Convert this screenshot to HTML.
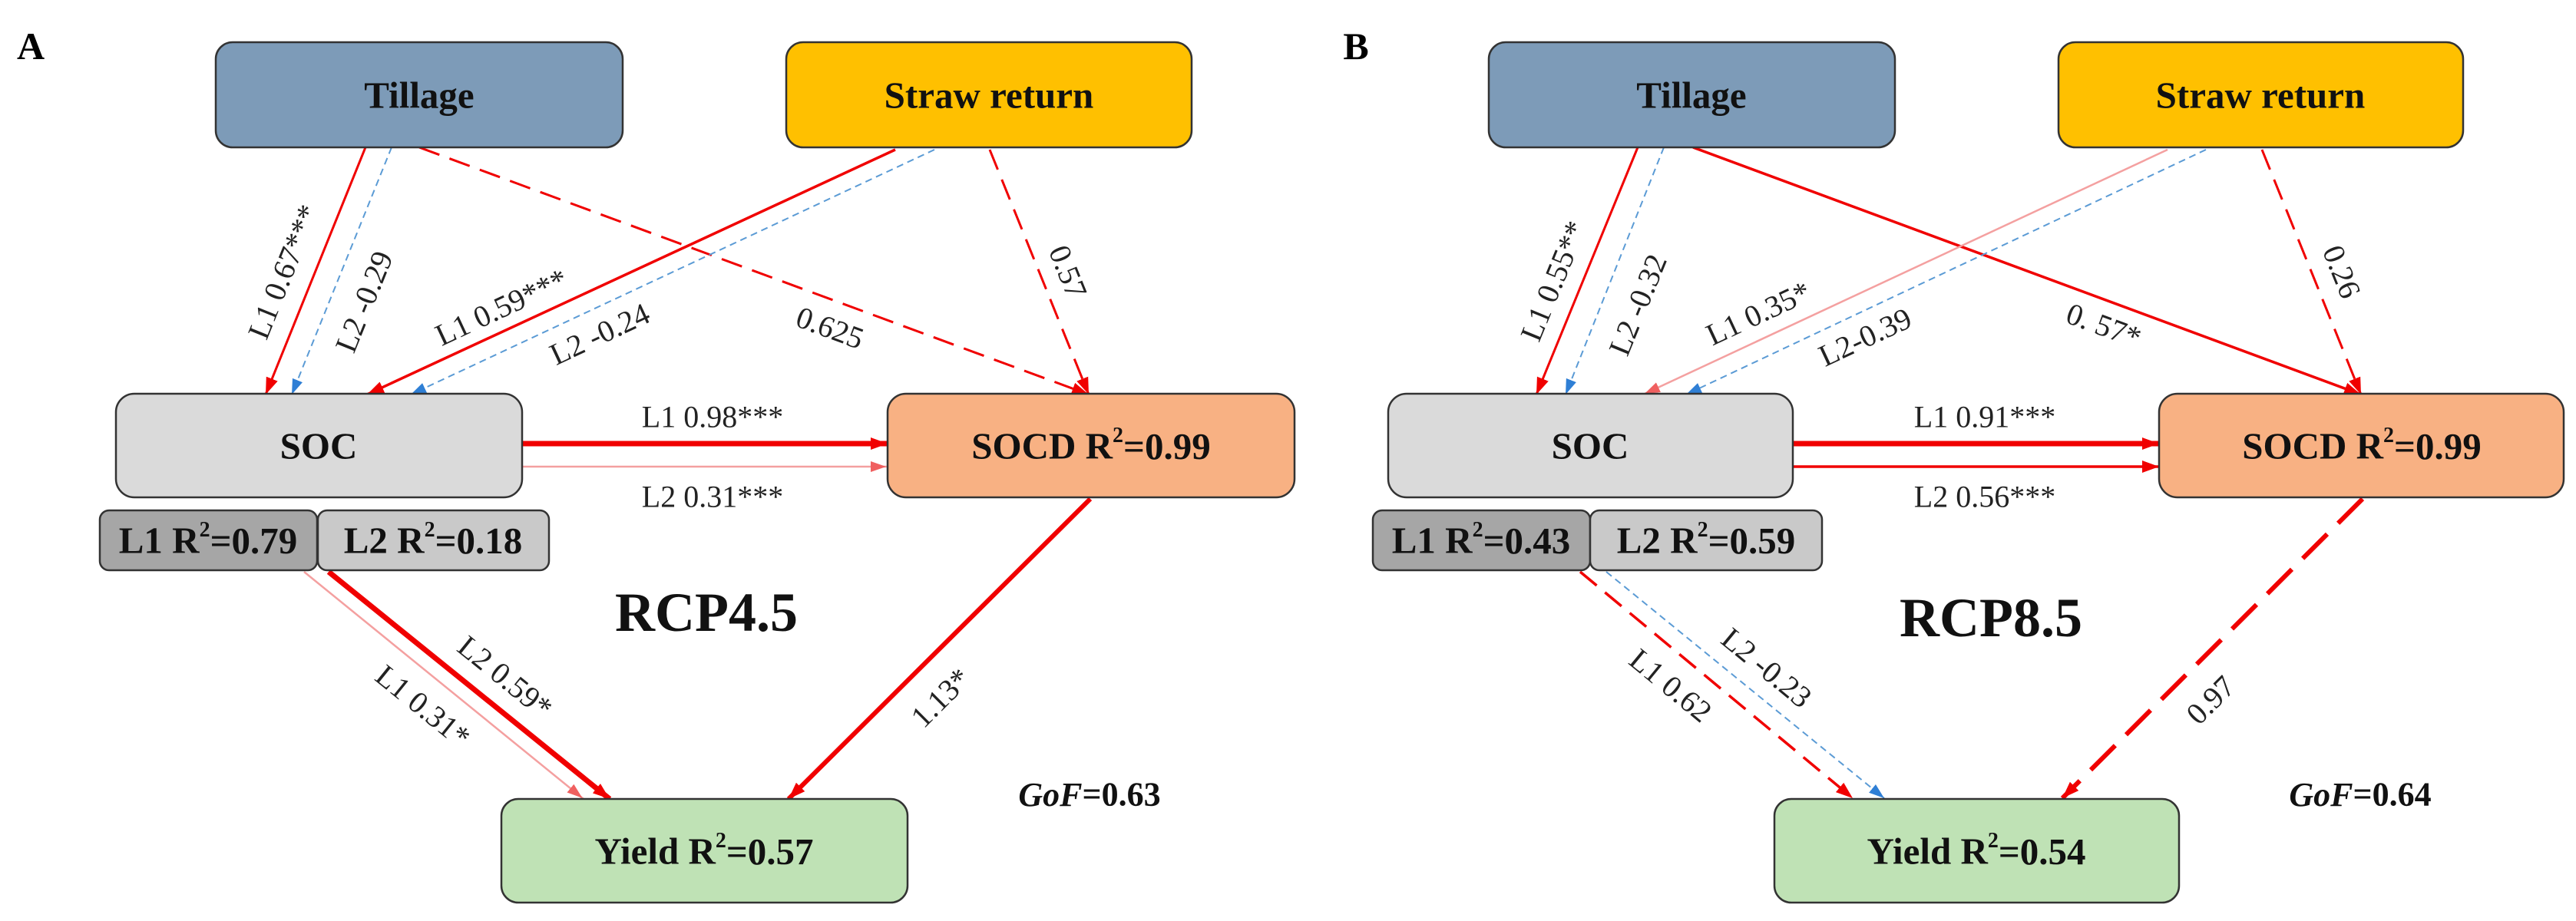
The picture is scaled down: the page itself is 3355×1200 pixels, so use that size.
<!DOCTYPE html>
<html><head><meta charset="utf-8"><style>
html,body{margin:0;padding:0;background:#fff}
svg{display:block}
.bx{stroke:#333;stroke-width:2.5}
.bt{font-family:"Liberation Serif",serif;font-weight:bold;font-size:49px;fill:#111;text-anchor:middle;dominant-baseline:central}
.lb{font-family:"Liberation Serif",serif;font-size:40px;fill:#222;text-anchor:middle;dominant-baseline:central}
.rcp{font-family:"Liberation Serif",serif;font-weight:bold;font-size:72px;fill:#111;text-anchor:middle;dominant-baseline:central}
.gof{font-family:"Liberation Serif",serif;font-weight:bold;font-size:44px;fill:#111;text-anchor:middle;dominant-baseline:central}
.r{stroke:#f00000;fill:none}
.p{stroke:#f4a0a0;fill:none}
.b{stroke:#5b9bd5;fill:none}
</style></head><body>
<svg width="3355" height="1200" viewBox="0 0 3355 1200" xmlns="http://www.w3.org/2000/svg">
<defs>
<marker id="mr" markerUnits="userSpaceOnUse" markerWidth="24" markerHeight="20" refX="22" refY="10" orient="auto"><path d="M0,2 L22,10 L0,18 z" fill="#f00000"/></marker>
<marker id="mp" markerUnits="userSpaceOnUse" markerWidth="24" markerHeight="20" refX="22" refY="10" orient="auto"><path d="M0,3 L20,10 L0,17 z" fill="#f06060"/></marker>
<marker id="mb" markerUnits="userSpaceOnUse" markerWidth="22" markerHeight="18" refX="20" refY="9" orient="auto"><path d="M0,2 L20,9 L0,16 z" fill="#2f7fd5"/></marker>
</defs>

<text x="40" y="60" style="font-family:'Liberation Serif',serif;font-weight:bold;font-size:50px" text-anchor="middle" dominant-baseline="central">A</text>

<line class="r" x1="476" y1="192" x2="346" y2="514" stroke-width="3" marker-end="url(#mr)"/>
<line class="b" x1="510" y1="192" x2="380" y2="514" stroke-width="2" stroke-dasharray="9,6" marker-end="url(#mb)"/>
<line class="r" x1="546" y1="192" x2="1418" y2="514" stroke-width="3" stroke-dasharray="28,14" marker-end="url(#mr)"/>
<line class="r" x1="1166" y1="195" x2="478" y2="514" stroke-width="3.5" marker-end="url(#mr)"/>
<line class="b" x1="1217" y1="195" x2="535" y2="514" stroke-width="2" stroke-dasharray="9,6" marker-end="url(#mb)"/>
<line class="r" x1="1289" y1="195" x2="1418" y2="514" stroke-width="3" stroke-dasharray="28,14" marker-end="url(#mr)"/>
<line class="r" x1="680" y1="578" x2="1156" y2="578" stroke-width="7" marker-end="url(#mr)"/>
<line class="p" x1="680" y1="608" x2="1156" y2="608" stroke-width="2.5" marker-end="url(#mp)"/>
<line class="p" x1="396" y1="745" x2="760" y2="1041" stroke-width="2.5" marker-end="url(#mp)"/>
<line class="r" x1="428" y1="745" x2="794" y2="1041" stroke-width="7" marker-end="url(#mr)"/>
<line class="r" x1="1420" y1="650" x2="1027" y2="1041" stroke-width="6" marker-end="url(#mr)"/>

<rect class="bx" x="281" y="55" width="530" height="137" rx="22" fill="#7d9bb8"/>
<text class="bt" x="546" y="124">Tillage</text>
<rect class="bx" x="1024" y="55" width="528" height="137" rx="22" fill="#ffc000"/>
<text class="bt" x="1288" y="124">Straw return</text>
<rect class="bx" x="151" y="513" width="529" height="135" rx="24" fill="#dadada"/>
<text class="bt" x="415" y="581">SOC</text>
<rect class="bx" x="130" y="665" width="283" height="78" rx="12" fill="#a6a6a6"/>
<text class="bt" x="271" y="704">L1 R<tspan font-size="28" dy="-14">2</tspan><tspan dy="14">=0.79</tspan></text>
<rect class="bx" x="414" y="665" width="301" height="78" rx="12" fill="#c9c9c9"/>
<text class="bt" x="564" y="704">L2 R<tspan font-size="28" dy="-14">2</tspan><tspan dy="14">=0.18</tspan></text>
<rect class="bx" x="1156" y="513" width="530" height="135" rx="24" fill="#f8b183"/>
<text class="bt" x="1421" y="581">SOCD R<tspan font-size="28" dy="-14">2</tspan><tspan dy="14">=0.99</tspan></text>
<rect class="bx" x="653" y="1041" width="529" height="135" rx="22" fill="#bfe2b5"/>
<text class="bt" x="917" y="1109">Yield R<tspan font-size="28" dy="-14">2</tspan><tspan dy="14">=0.57</tspan></text>

<text class="lb" transform="translate(369,354) rotate(-68)">L1 0.67***</text>
<text class="lb" transform="translate(474,393) rotate(-68)">L2 -0.29</text>
<text class="lb" transform="translate(653,400) rotate(-25)">L1 0.59***</text>
<text class="lb" transform="translate(781,435) rotate(-25)">L2 -0.24</text>
<text class="lb" transform="translate(1081,427) rotate(20.3)">0.625</text>
<text class="lb" transform="translate(1391,354) rotate(68)">0.57</text>
<text class="lb" x="928" y="543">L1 0.98***</text>
<text class="lb" x="928" y="647">L2 0.31***</text>
<text class="lb" transform="translate(551,920) rotate(39)">L1 0.31*</text>
<text class="lb" transform="translate(658,882) rotate(39)">L2 0.59*</text>
<text class="lb" transform="translate(1225,909) rotate(-45)">1.13*</text>
<text class="rcp" x="920" y="798">RCP4.5</text>
<text class="gof" x="1419" y="1035"><tspan font-style="italic">GoF</tspan>=0.63</text>

<text x="1766" y="60" style="font-family:'Liberation Serif',serif;font-weight:bold;font-size:50px" text-anchor="middle" dominant-baseline="central">B</text>

<line class="r" x1="2133" y1="192" x2="2001" y2="514" stroke-width="3" marker-end="url(#mr)"/>
<line class="b" x1="2167" y1="192" x2="2039" y2="514" stroke-width="2" stroke-dasharray="9,6" marker-end="url(#mb)"/>
<line class="r" x1="2205" y1="192" x2="3075" y2="514" stroke-width="3.5" marker-end="url(#mr)"/>
<line class="p" x1="2823" y1="195" x2="2140" y2="514" stroke-width="2.5" marker-end="url(#mp)"/>
<line class="b" x1="2873" y1="195" x2="2196" y2="514" stroke-width="2" stroke-dasharray="9,6" marker-end="url(#mb)"/>
<line class="r" x1="2946" y1="195" x2="3075" y2="514" stroke-width="3" stroke-dasharray="28,14" marker-end="url(#mr)"/>
<line class="r" x1="2335" y1="578" x2="2812" y2="578" stroke-width="7" marker-end="url(#mr)"/>
<line class="r" x1="2335" y1="608" x2="2812" y2="608" stroke-width="3.5" marker-end="url(#mr)"/>
<line class="r" x1="2058" y1="745" x2="2413" y2="1040" stroke-width="3.5" stroke-dasharray="28,14" marker-end="url(#mr)"/>
<line class="b" x1="2092" y1="745" x2="2454" y2="1040" stroke-width="2" stroke-dasharray="9,6" marker-end="url(#mb)"/>
<line class="r" x1="3077" y1="650" x2="2686" y2="1040" stroke-width="6" stroke-dasharray="45,20" marker-end="url(#mr)"/>

<rect class="bx" x="1939" y="55" width="529" height="137" rx="22" fill="#7d9bb8"/>
<text class="bt" x="2203" y="124">Tillage</text>
<rect class="bx" x="2681" y="55" width="527" height="137" rx="22" fill="#ffc000"/>
<text class="bt" x="2944" y="124">Straw return</text>
<rect class="bx" x="1808" y="513" width="527" height="135" rx="24" fill="#dadada"/>
<text class="bt" x="2071" y="581">SOC</text>
<rect class="bx" x="1788" y="665" width="283" height="78" rx="12" fill="#a6a6a6"/>
<text class="bt" x="1929" y="704">L1 R<tspan font-size="28" dy="-14">2</tspan><tspan dy="14">=0.43</tspan></text>
<rect class="bx" x="2071" y="665" width="302" height="78" rx="12" fill="#c9c9c9"/>
<text class="bt" x="2222" y="704">L2 R<tspan font-size="28" dy="-14">2</tspan><tspan dy="14">=0.59</tspan></text>
<rect class="bx" x="2812" y="513" width="527" height="135" rx="24" fill="#f8b183"/>
<text class="bt" x="3076" y="581">SOCD R<tspan font-size="28" dy="-14">2</tspan><tspan dy="14">=0.99</tspan></text>
<rect class="bx" x="2311" y="1041" width="527" height="135" rx="22" fill="#bfe2b5"/>
<text class="bt" x="2574" y="1109">Yield R<tspan font-size="28" dy="-14">2</tspan><tspan dy="14">=0.54</tspan></text>

<text class="lb" transform="translate(2023,366) rotate(-67.7)">L1 0.55**</text>
<text class="lb" transform="translate(2133,397) rotate(-67.7)">L2 -0.32</text>
<text class="lb" transform="translate(2290,408) rotate(-25)">L1 0.35*</text>
<text class="lb" transform="translate(2429,439) rotate(-25)">L2-0.39</text>
<text class="lb" transform="translate(2740,424) rotate(20.3)">0. 57*</text>
<text class="lb" transform="translate(3050,354) rotate(68)">0.26</text>
<text class="lb" x="2585" y="543">L1 0.91***</text>
<text class="lb" x="2585" y="647">L2 0.56***</text>
<text class="lb" transform="translate(2176,893) rotate(39.5)">L1 0.62</text>
<text class="lb" transform="translate(2301,870) rotate(39.5)">L2 -0.23</text>
<text class="lb" transform="translate(2879,912) rotate(-45)">0.97</text>
<text class="rcp" x="2593" y="805">RCP8.5</text>
<text class="gof" x="3074" y="1035"><tspan font-style="italic">GoF</tspan>=0.64</text>
</svg>
</body></html>
